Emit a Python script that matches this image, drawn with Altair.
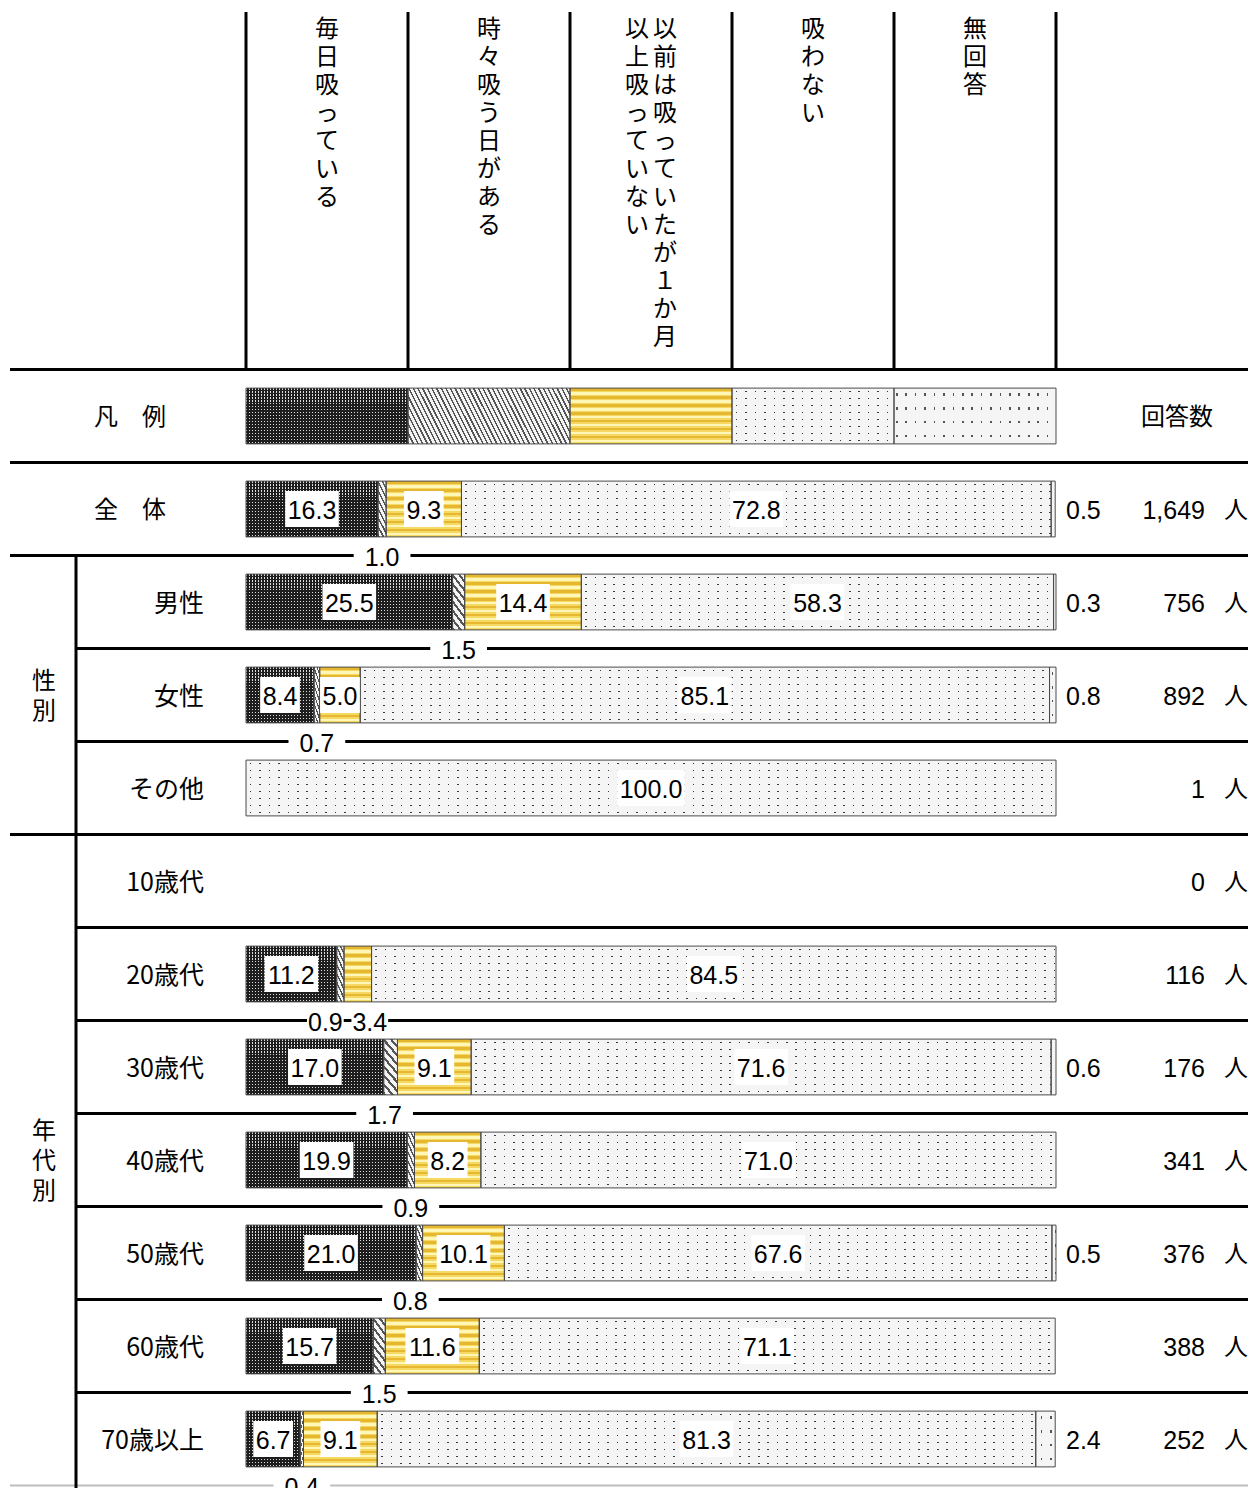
import altair as alt
import pandas as pd

# ---------------- data ----------------
categories = ["毎日吸っている", "時々吸う日がある", "以前は吸っていたが１か月以上吸っていない", "吸わない", "無回答"]
# vertical header text, columns listed right-to-left
header_text = [["毎日吸っている"], ["時々吸う日がある"], ["以前は吸っていたが１か月", "以上吸っていない"], ["吸わない"], ["無回答"]]
legend_label = "凡　例"
count_header = "回答数"
count_unit = "人"

groups = ["全　体", "男性", "女性", "その他", "10歳代", "20歳代", "30歳代", "40歳代", "50歳代", "60歳代", "70歳以上"]
sections = ["", "性別", "性別", "性別", "年代別", "年代別", "年代別", "年代別", "年代別", "年代別", "年代別"]
daily     = [16.3, 25.5, 8.4, 0.0, None, 11.2, 17.0, 19.9, 21.0, 15.7, 6.7]
sometimes = [1.0, 1.5, 0.7, 0.0, None, 0.9, 1.7, 0.9, 0.8, 1.5, 0.4]
quit_     = [9.3, 14.4, 5.0, 0.0, None, 3.4, 9.1, 8.2, 10.1, 11.6, 9.1]
never     = [72.8, 58.3, 85.1, 100.0, None, 84.5, 71.6, 71.0, 67.6, 71.1, 81.3]
no_answer = [0.5, 0.3, 0.8, 0.0, None, 0.0, 0.6, 0.0, 0.5, 0.0, 2.4]
counts    = [1649, 756, 892, 1, 0, 116, 176, 341, 376, 388, 252]

# ---------------- style ----------------
X_RANGE = [238, 1048]
PX_PER_UNIT = (X_RANGE[1] - X_RANGE[0]) / 100.0
Y_RANGE = [408, 1431]
ROW_PX = (Y_RANGE[1] - Y_RANGE[0]) / 11.0
BAR_HALF = 0.3
BAR_PX = 56.0
NUM_FONT = "Liberation Sans"
NUM_SIZE = 25
JP_FONT = "Noto Sans CJK JP"
DIGIT_W = 0.556 * NUM_SIZE
DOT_W = 0.278 * NUM_SIZE
SEC_LINE_H = 30
below_nudge_px = {("20歳代", 1): -15, ("20歳代", 2): 12, ("30歳代", 1): -6, ("50歳代", 1): -9}
tight_boxes = {("20歳代", 1), ("20歳代", 2)}
INSIDE_MIN = 5.0


def stripe_stops(pattern, total):
    stops = []
    pos = 0.0
    while pos < total - 1e-6:
        for ln, col in pattern:
            a = pos
            b = min(pos + ln, total)
            stops.append({"offset": round(a / total, 5), "color": col})
            stops.append({"offset": round(b / total, 5), "color": col})
            pos += ln
            if pos >= total - 1e-6:
                break
    return stops


def grad(stops, x1=0, y1=0, x2=0, y2=1):
    return {"gradient": "linear", "x1": x1, "y1": y1, "x2": x2, "y2": y2, "stops": stops}


CLEAR = "rgba(255,255,255,0)"
DARK = "#1e1e1e"
LIGHTBG = "#f5f5f5"
DAILY_ROWS = grad(stripe_stops([(1.45, "#dcdcdc"), (1.55, DARK)], BAR_PX))
DAILY_COLS = grad(stripe_stops([(1.45, CLEAR), (1.55, DARK)], 30 * PX_PER_UNIT), 0, 0, 1, 0)
SOMETIMES_LEGEND = grad(stripe_stops([(1.5, "#555555"), (2.65, "#f4f4f4")], 170.0), 0, 1, 1.1388, 0.8032)
SOMETIMES_DATA = grad(stripe_stops([(1.5, "#555555"), (2.5, "#f4f4f4")], 32.2), 0, 1, 0.3396, -0.1887)
QUIT = grad(stripe_stops([(2.5, "#e6b832"), (1.5, "#f5d963"), (2.5, "#fff7b8"), (1.5, "#f5d963")], BAR_PX))
NEVER_ROWS = grad(stripe_stops([(2.7, LIGHTBG), (1.6, "#3a3a3a"), (2.7, LIGHTBG)], BAR_PX))
NEVER_COLS = grad(stripe_stops([(3.9, LIGHTBG), (1.6, CLEAR), (3.92, LIGHTBG)], 100 * PX_PER_UNIT), 0, 0, 1, 0)
NA_ROWS = grad(stripe_stops([(5.0, LIGHTBG), (2.5, "#555555"), (6.5, LIGHTBG)], BAR_PX))


def text_w(s):
    return sum(DIGIT_W if ch.isdigit() else DOT_W for ch in s)


def box_path(s, padx, hh):
    hw = (text_w(s) / 2 + padx) / 32.0
    h = hh / 32.0
    return f"M{-hw:.4f},{-h:.4f}L{hw:.4f},{-h:.4f}L{hw:.4f},{h:.4f}L{-hw:.4f},{h:.4f}Z"


# ---------------- tables ----------------
seg_rows, row_info, labels = [], [], []
for i, g in enumerate(groups):
    vals = [daily[i], sometimes[i], quit_[i], never[i], no_answer[i]]
    if any(v is None for v in vals):
        continue
    r = i + 1
    start = 0.0
    s_never = 0.0
    for c, v in enumerate(vals):
        x0, x1 = start, start + v
        seg_rows.append({"row": r, "cat": c, "v": v, "x0": x0, "x1": x1})
        if c == 3:
            s_never = x0
        if v > 0:
            t = f"{v:.1f}"
            mid = (x0 + x1) / 2
            if c == 4:
                labels.append({"kind": "right", "row": r, "lx": 100.0, "ly": r, "t": t, "path": ""})
            elif c == 1 or v < INSIDE_MIN:
                nud = below_nudge_px.get((g, c), 0) / PX_PER_UNIT
                pad = 1 if (g, c) in tight_boxes else 11
                labels.append({"kind": "below", "row": r, "lx": mid + nud, "ly": r + 0.5, "t": t,
                               "path": box_path(t, pad, 11)})
            else:
                labels.append({"kind": "inside", "row": r, "lx": mid, "ly": r, "t": t,
                               "path": box_path(t, 2.5, 18)})
        start = x1
    row_info.append({"row": r, "s_never": s_never, "total": start})

for c in range(len(categories)):
    seg_rows.append({"row": 0, "cat": c, "v": 20.0, "x0": 20.0 * c, "x1": 20.0 * c + 20})
row_info.append({"row": 0, "s_never": 60.0, "total": 100.0})

seg = pd.DataFrame(seg_rows)
rinfo = pd.DataFrame(row_info)
lab = pd.DataFrame(labels)

rows_df = pd.DataFrame({"row": [i + 1 for i in range(len(groups))], "g": groups, "n": counts, "sec": sections})

# separators: full width at top of each section, inner otherwise
sep_full, sep_inner = [-0.5, 0.5], []
for i in range(1, len(groups)):
    (sep_full if sections[i] != sections[i - 1] else sep_inner).append(i + 0.5)
sep_full_df = pd.DataFrame({"y": sep_full})
sep_inner_df = pd.DataFrame({"y": sep_inner})

sec_df = rows_df[rows_df.sec != ""].groupby("sec", sort=False)["row"].mean().reset_index()
sec_df["t"] = sec_df["sec"].apply(lambda s: "\n".join(list(s)))
# first line position so that the multi-line block is centred on its rows
sec_df["ytop"] = sec_df.apply(lambda d: d["row"] - (len(d["sec"]) - 1) / 2 * SEC_LINE_H / ROW_PX, axis=1)

head_rows = []
for c, cols in enumerate(header_text):
    n = len(cols)
    for k, txt in enumerate(cols):
        off_px = ((n - 1) / 2 - k) * 28
        head_rows.append({"x": 20 * c + 10 + off_px / PX_PER_UNIT, "t": "\n".join(list(txt))})
head_df = pd.DataFrame(head_rows)
hrule_df = pd.DataFrame({"x": [20.0 * c for c in range(len(categories) + 1)]})

# ---------------- encodings ----------------
xs = alt.Scale(domain=[0, 100], range=X_RANGE, nice=False, zero=False)
ys = alt.Scale(domain=[0, 11], range=Y_RANGE, nice=False, zero=False)


def X(f):
    return alt.X(f, type="quantitative", scale=xs, axis=None)


def Y(f):
    return alt.Y(f, type="quantitative", scale=ys, axis=None)


def XD(v):
    return alt.XDatum(v, type="quantitative", scale=xs, axis=None)


def YD(v):
    return alt.YDatum(v, type="quantitative", scale=ys, axis=None)


ycalc = dict(yt=f"datum.row - {BAR_HALF}", yb=f"datum.row + {BAR_HALF}")
base_seg = alt.Chart(seg).transform_calculate(**ycalc)
base_row = alt.Chart(rinfo).transform_calculate(e="datum.s_never + 100", **ycalc)


def seg_layer(cond, fill):
    return base_seg.transform_filter(cond).mark_rect(fill=fill, strokeWidth=0).encode(
        x=X("x0"), x2=alt.X2("x1"), y=Y("yt"), y2=alt.Y2("yb"))


layers = [
    seg_layer("datum.cat == 0 && datum.v > 0", DAILY_ROWS),
    base_row.mark_rect(fill=DAILY_COLS, strokeWidth=0).encode(
        x=XD(0), x2=alt.X2Datum(30), y=Y("yt"), y2=alt.Y2("yb")),
    seg_layer("datum.cat == 1 && datum.row > 0 && datum.v > 0", SOMETIMES_DATA),
    seg_layer("datum.cat == 1 && datum.row == 0", SOMETIMES_LEGEND),
    seg_layer("datum.cat == 2 && datum.v > 0", QUIT),
    seg_layer("datum.cat == 3 && datum.v > 0", NEVER_ROWS),
    seg_layer("datum.cat == 4 && datum.v > 0", NA_ROWS),
    base_row.mark_rect(fill=NEVER_COLS, strokeWidth=0).encode(
        x=X("s_never"), x2=alt.X2("e"), y=Y("yt"), y2=alt.Y2("yb")),
    base_row.mark_rect(fill="white", strokeWidth=0).encode(
        x=X("total"), x2=alt.X2("e"), y=Y("yt"), y2=alt.Y2("yb")),
    base_seg.transform_filter("datum.v > 0").mark_rect(fillOpacity=0, stroke="#4a4a4a", strokeWidth=1).encode(
        x=X("x0"), x2=alt.X2("x1"), y=Y("yt"), y2=alt.Y2("yb")),
    # table lines
    alt.Chart(sep_full_df).mark_rule(color="black", strokeWidth=3).encode(
        y=Y("y"), x=alt.value(2), x2=alt.value(1240)),
    alt.Chart(sep_inner_df).mark_rule(color="black", strokeWidth=3).encode(
        y=Y("y"), x=alt.value(68), x2=alt.value(1240)),
    alt.Chart(pd.DataFrame({"y": [len(groups) + 0.5]})).mark_rule(color="#bdbdbd", strokeWidth=2).encode(
        y=Y("y"), x=alt.value(2), x2=alt.value(1240)),
    alt.Chart(pd.DataFrame({"y": [1.5]})).mark_rule(color="black", strokeWidth=3).encode(
        x=alt.value(68), y=Y("y"), y2=alt.value(1480)),
    alt.Chart(hrule_df).mark_rule(color="black", strokeWidth=3).encode(
        x=X("x"), y=YD(-0.5), y2=alt.value(4)),
    # label boxes and labels
    alt.Chart(lab).transform_filter("datum.kind != 'right'").mark_point(
        filled=True, color="white", opacity=1, strokeWidth=0, size=4096).encode(
        x=X("lx"), y=Y("ly"), shape=alt.Shape("path:N", scale=None)),
    alt.Chart(lab).transform_filter("datum.kind != 'right'").mark_text(
        font=NUM_FONT, fontSize=NUM_SIZE, color="black", baseline="middle", dy=2).encode(
        x=X("lx"), y=Y("ly"), text="t:N"),
    alt.Chart(lab).transform_filter("datum.kind == 'right'").mark_text(
        font=NUM_FONT, fontSize=NUM_SIZE, color="black", baseline="middle", align="left", dx=10, dy=2).encode(
        x=X("lx"), y=Y("ly"), text="t:N"),
    # row labels
    alt.Chart(rows_df).transform_filter("datum.row > 1").mark_text(
        font=JP_FONT, fontSize=25, color="black", baseline="middle", align="right", dy=2).encode(
        x=alt.value(196), y=Y("row"), text="g:N"),
    alt.Chart(rows_df).transform_filter("datum.row == 1").mark_text(
        font=JP_FONT, fontSize=24, color="black", baseline="middle", align="center", dy=2).encode(
        x=alt.value(122), y=Y("row"), text="g:N"),
    alt.Chart(pd.DataFrame({"t": [legend_label]})).mark_text(
        font=JP_FONT, fontSize=24, color="black", baseline="middle", align="center", dy=2).encode(
        x=alt.value(122), y=YD(0), text="t:N"),
    alt.Chart(sec_df).mark_text(
        font=JP_FONT, fontSize=24, color="black", baseline="middle", align="center", lineBreak="\n",
        lineHeight=SEC_LINE_H, dy=2).encode(
        x=alt.value(36), y=Y("ytop"), text="t:N"),
    # counts
    alt.Chart(rows_df).mark_text(
        font=NUM_FONT, fontSize=NUM_SIZE, color="black", baseline="middle", align="right", dy=2).encode(
        x=alt.value(1197), y=Y("row"), text=alt.Text("n:Q", format=",")),
    alt.Chart(rows_df).mark_text(
        font=JP_FONT, fontSize=24, color="black", baseline="middle", align="center", dy=2).encode(
        x=alt.value(1228), y=Y("row"), text=alt.value(count_unit)),
    alt.Chart(pd.DataFrame({"t": [count_header]})).mark_text(
        font=JP_FONT, fontSize=24, color="black", baseline="middle", align="center", dy=2).encode(
        x=alt.value(1169), y=YD(0), text="t:N"),
    # header
    alt.Chart(head_df).mark_text(
        font=JP_FONT, fontSize=24, color="black", baseline="top", align="center", lineBreak="\n",
        lineHeight=28).encode(
        x=X("x"), y=alt.value(10), text="t:N"),
]

chart = alt.layer(*layers).properties(
    width=1240, height=1480, padding=0, background="white",
    autosize=alt.AutoSizeParams(type="none"),
).configure_view(strokeWidth=0)

chart.save("out.html", embed_options={"renderer": "svg", "actions": False})
